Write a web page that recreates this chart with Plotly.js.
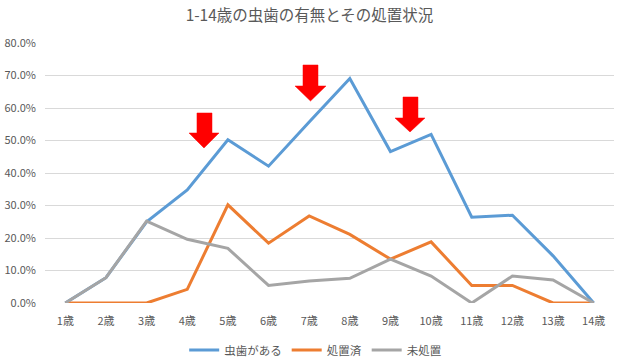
<!DOCTYPE html>
<html>
<head>
<meta charset="utf-8">
<script src="https://cdn.plot.ly/plotly-3.0.1.min.js"></script>
<style>html,body{margin:0;padding:0;background:#fff;}#chart{width:619px;height:362px;}</style>
</head>
<body>
<div id="chart"></div>
<script>
var categories = ['1歳','2歳','3歳','4歳','5歳','6歳','7歳','8歳','9歳','10歳','11歳','12歳','13歳','14歳'];
var cavities  = [0, 7.8, 25.0, 34.8, 50.2, 42.1, 55.7, 69.1, 46.6, 51.9, 26.4, 27.0, 14.5, 0];
var treated   = [0, 0, 0, 4.2, 30.2, 18.4, 26.8, 21.1, 13.5, 18.8, 5.4, 5.4, 0, 0];
var untreated = [0, 7.8, 25.2, 19.6, 16.8, 5.4, 6.8, 7.6, 13.5, 8.3, 0, 8.3, 7.1, 0];
var seriesNames = ['虫歯がある','処置済','未処置'];
var yTickVals = [0,10,20,30,40,50,60,70,80];
var yTickText = yTickVals.map(function(v){return v.toFixed(1)+'%';});

var font = '"Noto Sans CJK JP", "Noto Sans", sans-serif';
var textColor = '#595959';

var traces = [
  {x: categories, y: cavities, name: seriesNames[0], type:'scatter', mode:'lines', line:{color:'#5B9BD5', width:3}},
  {x: categories, y: treated, name: seriesNames[1], type:'scatter', mode:'lines', line:{color:'#ED7D31', width:3}},
  {x: categories, y: untreated, name: seriesNames[2], type:'scatter', mode:'lines', line:{color:'#A5A5A5', width:3}}
];

// red down arrows (decoration), defined in pixel space then converted to paper coords
var L = 45, R = 5, T = 43, B = 59, W = 619, H = 362;
var pw = W - L - R, ph = H - T - B;
function arrowPath(x0, x1, sx0, sx1, top, neck, tip) {
  function px(x){ return ((x - L) / pw).toFixed(4); }
  function py(y){ return ((H - B - y) / ph).toFixed(4); }
  var cx = (x0 + x1) / 2;
  return 'M' + px(sx0) + ',' + py(top) + ' L' + px(sx1) + ',' + py(top) +
         ' L' + px(sx1) + ',' + py(neck) + ' L' + px(x1) + ',' + py(neck) +
         ' L' + px(cx) + ',' + py(tip) + ' L' + px(x0) + ',' + py(neck) +
         ' L' + px(sx0) + ',' + py(neck) + ' Z';
}
var arrows = [
  [189, 219, 197, 212, 113, 133, 148],
  [295, 326, 303, 318, 65, 86, 101],
  [395, 425, 403, 418, 97, 118, 132]
];
var shapes = arrows.map(function(a){
  return {type:'path', xref:'paper', yref:'paper', path: arrowPath.apply(null, a),
          fillcolor:'#FF0000', line:{color:'#FF0000', width:0.5}};
});

var layout = {
  width: W, height: H,
  margin: {l: L, r: R, t: T, b: B, autoexpand: false},
  paper_bgcolor: '#fff', plot_bgcolor: '#fff',
  font: {family: font, color: textColor, size: 11},
  title: {text: '1-14歳の虫歯の有無とその処置状況', font: {family: font, size: 15.5, color: textColor}, x: 0.5, xanchor: 'center', y: 0.958, yanchor: 'middle'},
  xaxis: {type: 'category', showgrid: false, zeroline: false, showline: false, ticks: '',
          ticklabelstandoff: 10, automargin: false,
          tickfont: {size: 11, color: textColor}, range: [-0.5, 13.5], fixedrange: true},
  yaxis: {range: [0, 80], tickvals: yTickVals, ticktext: yTickText, showgrid: true, gridcolor: '#D9D9D9',
          gridwidth: 1, zeroline: false, showline: false, ticks: '', ticklabelstandoff: 8, automargin: false,
          tickfont: {size: 11, color: textColor}},
  showlegend: true,
  legend: {orientation: 'h', xref: 'container', yref: 'container', x: 0.51, xanchor: 'center', y: 12 / H, yanchor: 'middle',
           font: {size: 11.5, color: textColor}, itemwidth: 30, tracegroupgap: 0},
  shapes: shapes
};

Plotly.newPlot('chart', traces, layout, {displayModeBar: false, staticPlot: true});
</script>
</body>
</html>
